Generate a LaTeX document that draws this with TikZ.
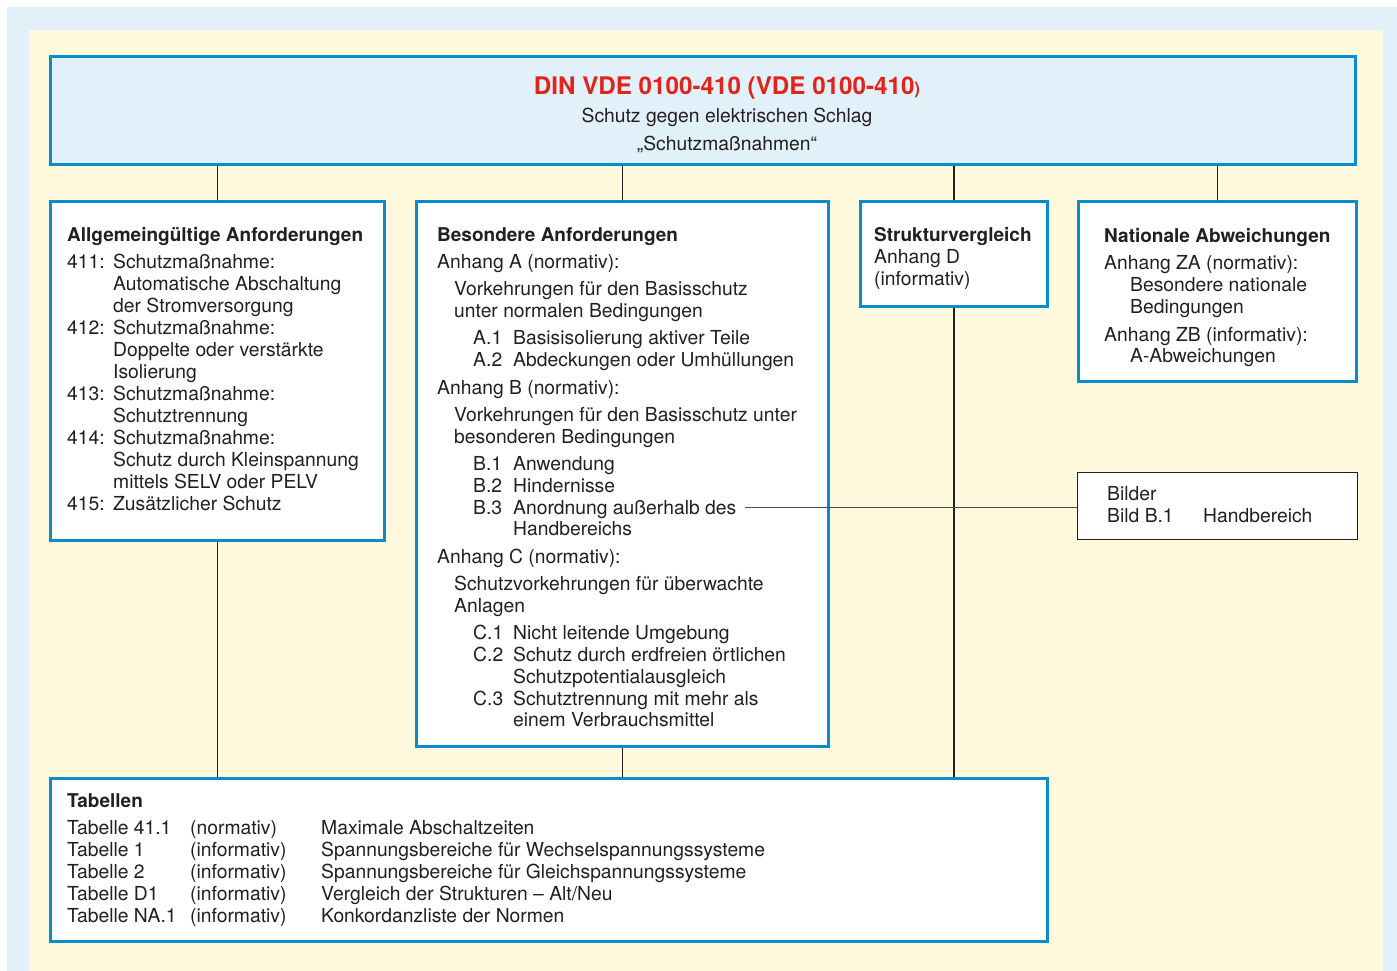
\documentclass[tikz,border=0pt]{standalone}
\usepackage{fontspec}
\setmainfont{TeX Gyre Heros}
\definecolor{bordblue}{RGB}{10,140,204}
\definecolor{lightblue}{RGB}{226,240,250}
\definecolor{paleyellow}{RGB}{254,249,220}
\definecolor{titlered}{RGB}{226,35,26}
\definecolor{ink}{RGB}{35,31,32}
\newcommand\fsz{\fontsize{19.3}{22}\selectfont}
\newcommand\hb{\fontsize{19}{22}\selectfont\bfseries}
\tikzset{
  bluebox/.style={draw=bordblue, line width=3pt, fill=white, inner sep=0pt},
  thinbox/.style={draw=ink, line width=1.2pt, fill=white, inner sep=0pt},
  txt/.style={anchor=base west, inner sep=0pt, font=\fsz, text=ink},
  ctxt/.style={anchor=base, inner sep=0pt, font=\fsz, text=ink},
  conn/.style={draw=ink, line width=1.2pt},
}
\newcommand\tx[4]{\node[txt] (#1) at (#2,#3) {#4};}
\begin{document}
\begin{tikzpicture}[x=1pt,y=-1pt]
\useasboundingbox (0,0) rectangle (1397,971);
\fill[white] (0,0) rectangle (1397,971);
\fill[lightblue] (7,7) rectangle (1397,971);
\fill[paleyellow] (29,30) rectangle (1383,971);

% boxes
\node[bluebox, fill=lightblue, minimum width=1305pt, minimum height=108pt] (tb) at (703,110.5) {};
\node[bluebox, minimum width=334pt, minimum height=339pt] (b1) at (217.5,371) {};
\node[bluebox, minimum width=412pt, minimum height=545pt] (b2) at (622.5,474) {};
\node[bluebox, minimum width=187pt, minimum height=105pt] (b3) at (954,254) {};
\node[bluebox, minimum width=278pt, minimum height=180pt] (b4) at (1217.5,291.5) {};
\node[thinbox, minimum width=280pt, minimum height=67pt] (bil) at (1217.5,506) {};
\node[bluebox, minimum width=997pt, minimum height=163pt] (tab) at (549,860) {};

% connectors
\draw[conn] (b1.north) -- (b1.north |- tb.south);
\draw[conn] (b2.north) -- (b2.north |- tb.south);
\draw[conn] (b3.north) -- (b3.north |- tb.south);
\draw[conn] (b4.north) -- (b4.north |- tb.south);
\draw[conn] (b1.south) -- (b1.south |- tab.north);
\draw[conn] (b2.south) -- (b2.south |- tab.north);
\draw[conn] (b3.south) -- (b3.south |- tab.north);
\coordinate (b3end) at (745,507);
\draw[draw=ink!80, line width=1pt] (b3end) -- (b3end -| bil.west);

% title
\node[ctxt, font=\fontsize{24.2}{28}\selectfont\bfseries, text=titlered] (t1) at (727,95) {DIN VDE 0100-410 (VDE 0100-410{\fontsize{17}{20}\selectfont)}};
\node[ctxt] (t2) at (727,123) {Schutz gegen elektrischen Schlag};
\node[ctxt] (t3) at (727,150) {„Schutzmaßnahmen“};

% box 1
\tx{a0}{67}{241}{\hb Allgemeingültige Anforderungen}
\tx{a1}{67}{268}{411:} \tx{a1t}{113}{268}{Schutzmaßnahme:}
\tx{a2}{113}{290}{Automatische Abschaltung}
\tx{a3}{113}{312}{der Stromversorgung}
\tx{a4}{67}{334}{412:} \tx{a4t}{113}{334}{Schutzmaßnahme:}
\tx{a5}{113}{356}{Doppelte oder verstärkte}
\tx{a6}{113}{378}{Isolierung}
\tx{a7}{67}{400}{413:} \tx{a7t}{113}{400}{Schutzmaßnahme:}
\tx{a8}{113}{422}{Schutztrennung}
\tx{a9}{67}{444}{414:} \tx{a9t}{113}{444}{Schutzmaßnahme:}
\tx{a10}{113}{466}{Schutz durch Kleinspannung}
\tx{a11}{113}{488}{mittels SELV oder PELV}
\tx{a12}{67}{510}{415:} \tx{a12t}{113}{510}{Zusätzlicher Schutz}

% box 2
\tx{c0}{437}{241}{\hb Besondere Anforderungen}
\tx{c1}{437}{268}{Anhang A (normativ):}
\tx{c2}{454}{295}{Vorkehrungen für den Basisschutz}
\tx{c3}{454}{317}{unter normalen Bedingungen}
\tx{c4}{473}{344}{A.1} \tx{c4t}{513}{344}{Basisisolierung aktiver Teile}
\tx{c5}{473}{366}{A.2} \tx{c5t}{513}{366}{Abdeckungen oder Umhüllungen}
\tx{c6}{437}{394}{Anhang B (normativ):}
\tx{c7}{454}{421}{Vorkehrungen für den Basisschutz unter}
\tx{c8}{454}{443}{besonderen Bedingungen}
\tx{c9}{473}{470}{B.1} \tx{c9t}{513}{470}{Anwendung}
\tx{c10}{473}{492}{B.2} \tx{c10t}{513}{492}{Hindernisse}
\tx{c11}{473}{514}{B.3} \tx{c11t}{513}{514}{Anordnung außerhalb des}
\tx{c12}{513}{535}{Handbereichs}
\tx{c13}{437}{563}{Anhang C (normativ):}
\tx{c14}{454}{590}{Schutzvorkehrungen für überwachte}
\tx{c15}{454}{612}{Anlagen}
\tx{c16}{473}{639}{C.1} \tx{c16t}{513}{639}{Nicht leitende Umgebung}
\tx{c17}{473}{661}{C.2} \tx{c17t}{513}{661}{Schutz durch erdfreien örtlichen}
\tx{c18}{513}{683}{Schutzpotentialausgleich}
\tx{c19}{473}{705}{C.3} \tx{c19t}{513}{705}{Schutztrennung mit mehr als}
\tx{c20}{513}{726}{einem Verbrauchsmittel}

% box 3
\tx{d0}{874}{241}{\hb Strukturvergleich}
\tx{d1}{874}{263}{Anhang D}
\tx{d2}{874}{285}{(informativ)}

% box 4
\tx{e0}{1104}{242}{\hb Nationale Abweichungen}
\tx{e1}{1104}{269}{Anhang ZA (normativ):}
\tx{e2}{1130}{291}{Besondere nationale}
\tx{e3}{1130}{313}{Bedingungen}
\tx{e4}{1104}{341}{Anhang ZB (informativ):}
\tx{e5}{1130}{362}{A-Abweichungen}

% Bilder
\tx{f0}{1107}{500}{Bilder}
\tx{f1}{1107}{522}{Bild B.1} \tx{f1t}{1203}{522}{Handbereich}

% Tabellen
\tx{g0}{67}{807}{\hb Tabellen}
\tx{g1}{67}{834}{Tabelle 41.1} \tx{g1b}{190}{834}{(normativ)} \tx{g1c}{321}{834}{Maximale Abschaltzeiten}
\tx{g2}{67}{856}{Tabelle 1} \tx{g2b}{190}{856}{(informativ)} \tx{g2c}{321}{856}{Spannungsbereiche für Wechselspannungssysteme}
\tx{g3}{67}{878}{Tabelle 2} \tx{g3b}{190}{878}{(informativ)} \tx{g3c}{321}{878}{Spannungsbereiche für Gleichspannungssysteme}
\tx{g4}{67}{900}{Tabelle D1} \tx{g4b}{190}{900}{(informativ)} \tx{g4c}{321}{900}{Vergleich der Strukturen – Alt/Neu}
\tx{g5}{67}{922}{Tabelle NA.1} \tx{g5b}{190}{922}{(informativ)} \tx{g5c}{321}{922}{Konkordanzliste der Normen}
\end{tikzpicture}
\end{document}
